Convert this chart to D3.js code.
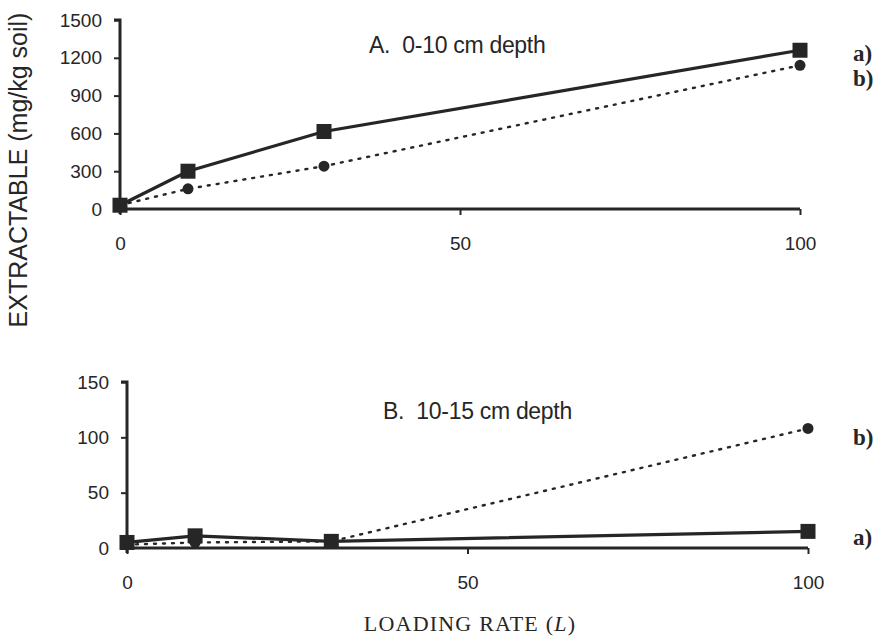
<!DOCTYPE html>
<html>
<head>
<meta charset="utf-8">
<script src="https://cdn.jsdelivr.net/npm/d3@7/dist/d3.min.js"></script>
<style>
  body { margin: 0; background: #fff; }
  svg { display: block; }
</style>
</head>
<body>
<div id="chart"></div>
<script>
(function () {
  'use strict';

  const INK = '#262626';
  const SANS = 'Arial, "Liberation Sans", sans-serif';
  const SERIF = '"Times New Roman", "Liberation Serif", serif';

  // Loading rate (L)
  const LOADING = [0, 10, 30, 100];

  // Panel A: 0-10 cm depth (mg/kg soil)
  const A_SERIES_A = [30, 300, 615, 1260];
  const A_SERIES_B = [30, 160, 340, 1140];
  const A_TICKS_Y = [0, 300, 600, 900, 1200, 1500];

  // Panel B: 10-15 cm depth (mg/kg soil)
  const B_SERIES_A = [5, 11, 6, 15];
  const B_SERIES_B = [3, 5, 6, 108];
  const B_TICKS_Y = [0, 50, 100, 150];

  const TICKS_X = [0, 50, 100];

  const width = 881, height = 638;
  const svg = d3.select('#chart').append('svg')
    .attr('width', width).attr('height', height);

  function panel(opts) {
    const x = d3.scaleLinear().domain([0, 100]).range([opts.x0, opts.x1]);
    const y = d3.scaleLinear().domain([0, opts.yMax]).range([opts.yBottom, opts.yTop]);
    const g = svg.append('g');

    // y axis
    const yAxis = d3.axisLeft(y).tickValues(opts.yTicks).tickSize(6).tickPadding(12)
      .tickFormat(d3.format('d'));
    const ga = g.append('g').attr('transform', `translate(${opts.x0},0)`).call(yAxis);
    ga.select('.domain').attr('stroke', INK).attr('stroke-width', 3)
      .attr('d', `M-6,${opts.yTop}H0V${opts.yBottom + 5}`);
    ga.selectAll('.tick line').attr('stroke', INK).attr('stroke-width', 2);
    ga.selectAll('.tick text').attr('fill', INK)
      .style('font-family', SANS).style('font-size', '19px');

    // x axis
    const xAxis = d3.axisBottom(x).tickValues(TICKS_X).tickSize(6).tickPadding(22);
    const gx = g.append('g').attr('transform', `translate(0,${opts.yBottom})`).call(xAxis);
    gx.select('.domain').attr('stroke', INK).attr('stroke-width', 3)
      .attr('d', `M${opts.x0},0H${opts.x1}`);
    gx.selectAll('.tick line').attr('stroke', INK).attr('stroke-width', 2);
    gx.selectAll('.tick text').attr('fill', INK)
      .style('font-family', SANS).style('font-size', '19px');

    const line = d3.line().x((d, i) => x(LOADING[i])).y(d => y(d));

    // series b (dotted, circles)
    g.append('path').datum(opts.seriesB).attr('d', line)
      .attr('fill', 'none').attr('stroke', INK).attr('stroke-width', 2.4)
      .attr('stroke-dasharray', '2,7').attr('stroke-linecap', 'round');
    g.selectAll('circle.b').data(opts.seriesB).join('circle')
      .attr('class', 'b')
      .attr('cx', (d, i) => x(LOADING[i])).attr('cy', d => y(d))
      .attr('r', 5.5).attr('fill', INK);

    // series a (solid, squares)
    g.append('path').datum(opts.seriesA).attr('d', line)
      .attr('fill', 'none').attr('stroke', INK).attr('stroke-width', 3.2);
    const s = 15;
    g.selectAll('rect.a').data(opts.seriesA).join('rect')
      .attr('class', 'a')
      .attr('x', (d, i) => x(LOADING[i]) - s / 2).attr('y', d => y(d) - s / 2)
      .attr('width', s).attr('height', s).attr('fill', INK);

    // title
    g.append('text').attr('x', opts.titleX).attr('y', opts.titleY)
      .attr('fill', INK)
      .style('white-space', 'pre')
      .style('font-family', SANS).style('font-size', '23px')
      .style('letter-spacing', '-0.3px')
      .text(opts.title);

    // series labels
    opts.labels.forEach(l => {
      g.append('text').attr('x', 853).attr('y', l.y)
        .attr('fill', INK).attr('font-weight', 'bold')
        .style('font-family', SERIF).style('font-size', '23px')
        .text(l.text);
    });
  }

  panel({
    x0: 120, x1: 800, yTop: 20, yBottom: 209, yMax: 1500,
    yTicks: A_TICKS_Y, seriesA: A_SERIES_A, seriesB: A_SERIES_B,
    title: 'A.  0-10 cm depth', titleX: 369, titleY: 53,
    labels: [{ text: 'a)', y: 61 }, { text: 'b)', y: 86 }]
  });

  panel({
    x0: 127, x1: 808, yTop: 382, yBottom: 548, yMax: 150,
    yTicks: B_TICKS_Y, seriesA: B_SERIES_A, seriesB: B_SERIES_B,
    title: 'B.  10-15 cm depth', titleX: 383, titleY: 419,
    labels: [{ text: 'b)', y: 445 }, { text: 'a)', y: 545 }]
  });

  // y label
  svg.append('text')
    .attr('transform', 'translate(27,170) rotate(-90)')
    .attr('text-anchor', 'middle').attr('fill', INK)
    .style('font-family', SANS).style('font-size', '25px')
    .text('EXTRACTABLE (mg/kg soil)');

  // x label
  const xl = svg.append('text')
    .attr('x', 470).attr('y', 631).attr('text-anchor', 'middle').attr('fill', INK)
    .style('font-family', SERIF).style('font-size', '22px')
    .style('letter-spacing', '1.2px');
  xl.append('tspan').text('LOADING RATE (');
  xl.append('tspan').attr('font-style', 'italic').text('L');
  xl.append('tspan').text(')');
})();
</script>
</body>
</html>
